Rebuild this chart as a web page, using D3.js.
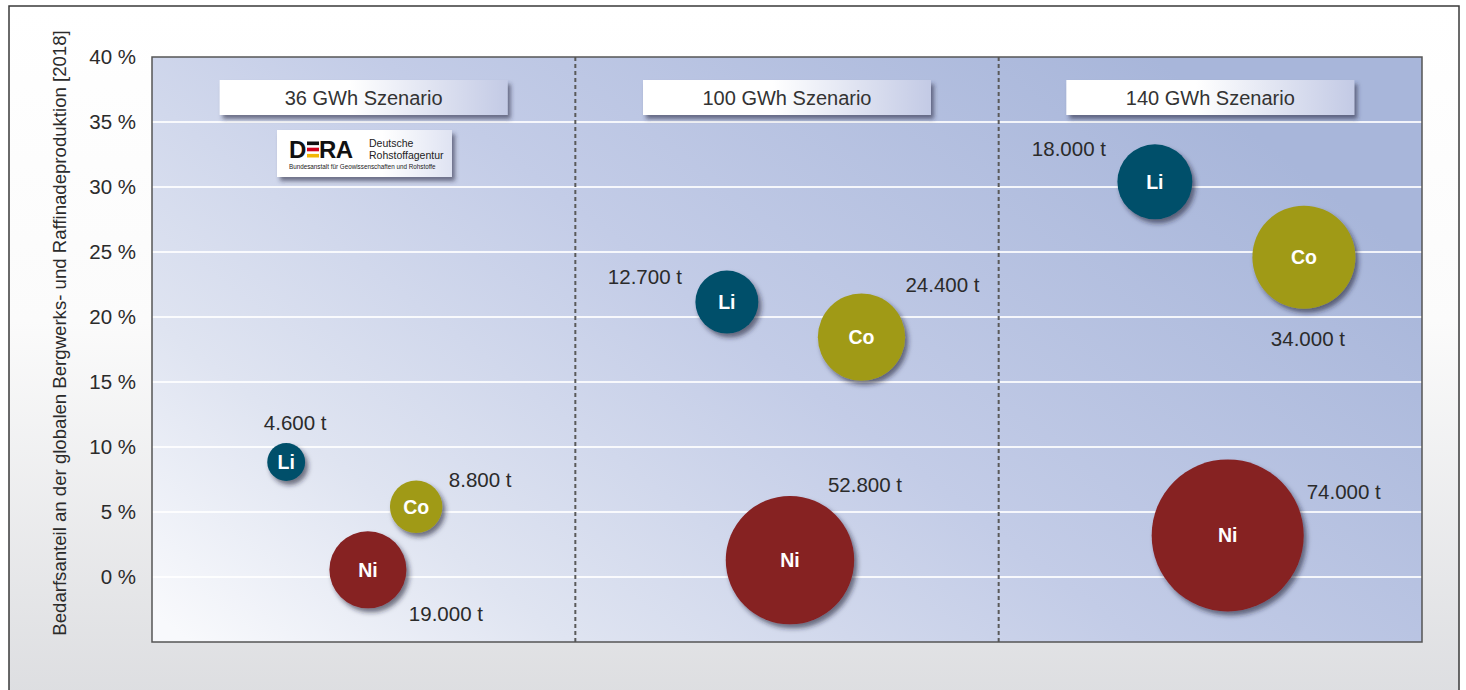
<!DOCTYPE html>
<html><head><meta charset="utf-8">
<script src="https://cdn.jsdelivr.net/npm/d3@7"></script>
<style>html,body{margin:0;padding:0;background:#fff;}svg{display:block;font-family:"Liberation Sans",Arial,sans-serif;}</style>
</head><body>
<svg id="chart" width="1466" height="690"></svg>
<script>
// ---- data ----
const scenarios = ["36 GWh Szenario", "100 GWh Szenario", "140 GWh Szenario"];
const metals = ["Li", "Co", "Ni"];
const liTonnes = [4600, 12700, 18000];
const coTonnes = [8800, 24400, 34000];
const niTonnes = [19000, 52800, 74000];
const liShare = [8.85, 21.15, 30.4];
const coShare = [5.4, 18.45, 24.6];
const niShare = [0.55, 1.3, 3.2];
// horizontal placement of each bubble inside its scenario column (0..1)
const liPlace = [0.317, 0.358, 0.369];
const coPlace = [0.624, 0.676, 0.721];
const niPlace = [0.510, 0.507, 0.541];
const yTicks = [0, 5, 10, 15, 20, 25, 30, 35, 40];
const yTitle = "Bedarfsanteil an der globalen Bergwerks- und Raffinadeproduktion [2018]";

// ---- layout / style ----
const W = 1466, H = 690;
const M = {left: 152, top: 57, right: 1422, bottom: 642};
const colors = {Li: "#00506b", Co: "#a09a17", Ni: "#862023"};
// tonnage label offsets from bubble centre [dx, dy(baseline)] per metal per scenario
const labelOffsets = {
  Li: [[9, -32], [-82, -18], [-86, -26]],
  Co: [[64, -20], [81, -45], [4, 89]],
  Ni: [[78, 51], [75, -68], [116, -36]]
};

const svg = d3.select("#chart");
const defs = svg.append("defs");

const og = defs.append("linearGradient").attr("id", "outerBg").attr("x1", 0).attr("y1", 0).attr("x2", 0).attr("y2", 1);
og.append("stop").attr("offset", "0").attr("stop-color", "#ffffff");
og.append("stop").attr("offset", "0.45").attr("stop-color", "#fbfbfb");
og.append("stop").attr("offset", "1").attr("stop-color", "#dcdde0");

const pg = defs.append("linearGradient").attr("id", "plotBg").attr("x1", 0).attr("y1", 0.95).attr("x2", 1).attr("y2", 0.35);
pg.append("stop").attr("offset", "0").attr("stop-color", "#f8f9fc");
pg.append("stop").attr("offset", "0.22").attr("stop-color", "#dfe4f1");
pg.append("stop").attr("offset", "0.55").attr("stop-color", "#c3cce7");
pg.append("stop").attr("offset", "1").attr("stop-color", "#a8b6da");

const hg = defs.append("linearGradient").attr("id", "headBg").attr("x1", 0).attr("y1", 0).attr("x2", 1).attr("y2", 0);
hg.append("stop").attr("offset", "0").attr("stop-color", "#ffffff");
hg.append("stop").attr("offset", "0.45").attr("stop-color", "#ffffff");
hg.append("stop").attr("offset", "1").attr("stop-color", "#c3cae5");

const lg = defs.append("linearGradient").attr("id", "logoBg").attr("x1", 0).attr("y1", 0).attr("x2", 1).attr("y2", 0);
lg.append("stop").attr("offset", "0").attr("stop-color", "#ffffff");
lg.append("stop").attr("offset", "0.6").attr("stop-color", "#ffffff");
lg.append("stop").attr("offset", "1").attr("stop-color", "#dfe3f2");

const sh = defs.append("filter").attr("id", "shadow").attr("x", "-30%").attr("y", "-30%").attr("width", "170%").attr("height", "170%");
sh.append("feDropShadow").attr("dx", 3).attr("dy", 4).attr("stdDeviation", 2.8).attr("flood-color", "#1a1f33").attr("flood-opacity", 0.6);
const sh2 = defs.append("filter").attr("id", "boxShadow").attr("x", "-10%").attr("y", "-30%").attr("width", "120%").attr("height", "170%");
sh2.append("feDropShadow").attr("dx", 3).attr("dy", 4).attr("stdDeviation", 2).attr("flood-color", "#2a2f45").attr("flood-opacity", 0.6);

// outer frame
svg.append("rect").attr("x", 9).attr("y", 6).attr("width", 1450).attr("height", 700)
  .attr("fill", "url(#outerBg)").attr("stroke", "#3a3a3a").attr("stroke-width", 1.5);

// scales
const x = d3.scaleLinear().domain([0, scenarios.length]).range([M.left, M.right]);
const y = d3.scaleLinear().domain([-5, 40]).range([M.bottom, M.top]);
const r = d3.scaleSqrt().domain([0, 74000]).range([0, 76]);

// plot background
svg.append("rect").attr("x", M.left).attr("y", M.top).attr("width", M.right - M.left).attr("height", M.bottom - M.top)
  .attr("fill", "url(#plotBg)");

// gridlines
svg.append("g").selectAll("line").data(yTicks.filter(d => d < 40)).join("line")
  .attr("x1", M.left).attr("x2", M.right).attr("y1", d => y(d)).attr("y2", d => y(d))
  .attr("stroke", "#ffffff").attr("stroke-opacity", 0.85).attr("stroke-width", 1.8);

// dividers
svg.append("g").selectAll("line").data(d3.range(1, scenarios.length)).join("line")
  .attr("x1", d => x(d)).attr("x2", d => x(d)).attr("y1", M.top).attr("y2", M.bottom)
  .attr("stroke", "#5a5a5a").attr("stroke-width", 2).attr("stroke-dasharray", "4,3");

// plot border
svg.append("rect").attr("x", M.left).attr("y", M.top).attr("width", M.right - M.left).attr("height", M.bottom - M.top)
  .attr("fill", "none").attr("stroke", "#555").attr("stroke-width", 1.5);

// y axis
const yAxis = d3.axisLeft(y).tickValues(yTicks).tickSize(0).tickPadding(16).tickFormat(d => d + " %");
const ya = svg.append("g").attr("transform", `translate(${M.left},0)`).call(yAxis);
ya.select(".domain").remove();
ya.selectAll("text").attr("font-size", 20.5).attr("fill", "#2b2b2b").attr("font-family", "Liberation Sans, Arial, sans-serif");

svg.append("text").attr("transform", `translate(66,${(30 + 636) / 2}) rotate(-90)`)
  .attr("text-anchor", "middle").attr("font-size", 18.6).attr("fill", "#2b2b2b").text(yTitle);

// scenario headers
const hw = 288, hh = 35;
const heads = svg.append("g").selectAll("g").data(scenarios).join("g")
  .attr("transform", (d, i) => `translate(${x(i + 0.5) - hw / 2},80)`);
heads.append("rect").attr("width", hw).attr("height", hh).attr("fill", "url(#headBg)").attr("filter", "url(#boxShadow)");
heads.append("text").attr("x", hw / 2).attr("y", 25).attr("text-anchor", "middle")
  .attr("font-size", 20).attr("fill", "#333").text(d => d);

// DERA logo
const logo = svg.append("g").attr("transform", "translate(277,130)");
logo.append("rect").attr("width", 175).attr("height", 47).attr("fill", "url(#logoBg)").attr("filter", "url(#boxShadow)");
logo.append("text").attr("x", 12).attr("y", 28).attr("font-size", 24).attr("font-weight", "bold").attr("fill", "#111").text("D");
[["#111", 0], ["#d0021b", 1], ["#f2b705", 2]].forEach(([c, k]) => {
  logo.append("rect").attr("x", 30).attr("y", 11.5 + k * 6.2).attr("width", 12).attr("height", 3.6).attr("fill", c);
});
logo.append("text").attr("x", 42).attr("y", 28).attr("font-size", 24).attr("font-weight", "bold").attr("fill", "#111").attr("letter-spacing", -0.5).text("RA");
logo.append("text").attr("x", 92).attr("y", 17).attr("font-size", 10.5).attr("fill", "#222").text("Deutsche");
logo.append("text").attr("x", 92).attr("y", 29).attr("font-size", 10.5).attr("fill", "#222").text("Rohstoffagentur");
logo.append("text").attr("x", 12).attr("y", 39).attr("font-size", 6.3).attr("fill", "#222").text("Bundesanstalt für Geowissenschaften und Rohstoffe");

// bubbles
const de = d3.formatLocale({decimal: ",", thousands: ".", grouping: [3], currency: ["", " €"]});
const fmt = de.format(",");
const series = {
  Li: {t: liTonnes, s: liShare, p: liPlace},
  Co: {t: coTonnes, s: coShare, p: coPlace},
  Ni: {t: niTonnes, s: niShare, p: niPlace}
};
const points = [];
metals.forEach(m => scenarios.forEach((sc, i) => {
  points.push({metal: m, i, tonnes: series[m].t[i], share: series[m].s[i], place: series[m].p[i]});
}));

const g = svg.append("g");
g.selectAll("circle").data(points).join("circle")
  .attr("cx", d => x(d.i + d.place)).attr("cy", d => y(d.share)).attr("r", d => r(d.tonnes))
  .attr("fill", d => colors[d.metal]).attr("filter", "url(#shadow)");
g.selectAll("text.sym").data(points).join("text").attr("class", "sym")
  .attr("x", d => x(d.i + d.place)).attr("y", d => y(d.share) + 7).attr("text-anchor", "middle")
  .attr("font-size", 19.5).attr("font-weight", "bold").attr("fill", "#fff").text(d => d.metal);
g.selectAll("text.ton").data(points).join("text").attr("class", "ton")
  .attr("x", d => x(d.i + d.place) + labelOffsets[d.metal][d.i][0])
  .attr("y", d => y(d.share) + labelOffsets[d.metal][d.i][1])
  .attr("text-anchor", "middle").attr("font-size", 20.5).attr("fill", "#2b2b2b")
  .text(d => fmt(d.tonnes) + " t");
</script>
</body></html>
